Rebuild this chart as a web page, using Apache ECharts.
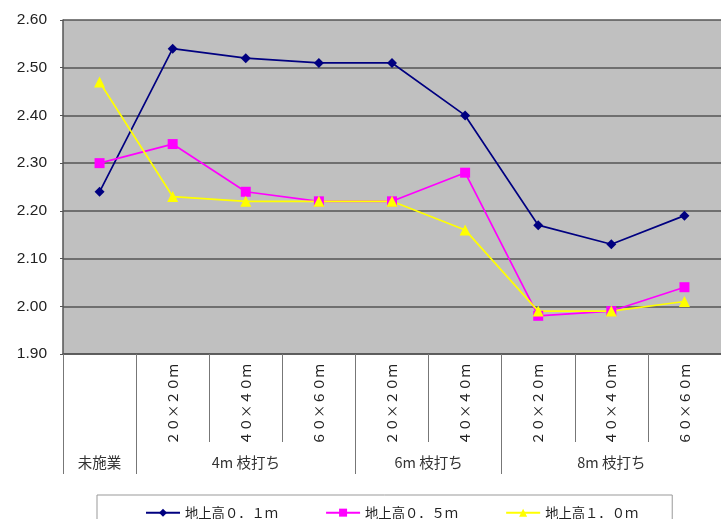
<!DOCTYPE html>
<html>
<head>
<meta charset="utf-8">
<script src="https://cdn.jsdelivr.net/npm/echarts@6/dist/echarts.min.js"></script>
<style>
html,body{margin:0;padding:0;background:#fff;}
#c{width:721px;height:519px;}
</style>
</head>
<body>
<div id="c"></div>
<script>
// Sub-category labels (rotated row); first category has none
const subLabels = ['', '２０×２０ｍ', '４０×４０ｍ', '６０×６０ｍ', '２０×２０ｍ', '４０×４０ｍ', '２０×２０ｍ', '４０×４０ｍ', '６０×６０ｍ'];
// Group row
const groupNames = ['未施業', '4m 枝打ち', '6m 枝打ち', '8m 枝打ち'];
const groupSpans = [1, 3, 2, 3];
// Series
const seriesNames = ['地上高０．１ｍ', '地上高０．５ｍ', '地上高１．０ｍ'];
const s01 = [2.24, 2.54, 2.52, 2.51, 2.51, 2.40, 2.17, 2.13, 2.19];
const s05 = [2.30, 2.34, 2.24, 2.22, 2.22, 2.28, 1.98, 1.99, 2.04];
const s10 = [2.47, 2.23, 2.22, 2.22, 2.22, 2.16, 1.99, 1.99, 2.01];
const yTicks = { min: 1.9, max: 2.6, interval: 0.1 };

const categories = subLabels.map((s, i) => 'c' + i);
const bounds = [0];
const centers = [];
groupSpans.forEach(s => { const b = bounds[bounds.length - 1]; centers.push(b + s / 2); bounds.push(b + s); });
const groupTickVals = bounds.slice(0, bounds.length - 1);

const chart = echarts.init(document.getElementById('c'));
const jp = '"Noto Sans CJK JP", "Noto Sans", sans-serif';
const gridColor = '#555555';
chart.setOption({
  backgroundColor: '#ffffff',
  animation: false,
  grid: { left: 63, top: 20, width: 666, bottom: 165, backgroundColor: '#c0c0c0', show: true, borderWidth: 0 },
  xAxis: [
    {
      type: 'category', data: categories, boundaryGap: true, position: 'bottom',
      axisLine: { lineStyle: { color: gridColor, width: 1.5 } },
      axisTick: { show: true, interval: 0, length: 88, lineStyle: { color: '#777777', width: 1 } },
      axisLabel: {
        interval: 0, rotate: 90, margin: 10, fontFamily: jp, fontSize: 13.5, color: '#222',
        formatter: (v, i) => subLabels[i]
      },
      splitLine: { show: false }
    },
    {
      type: 'value', min: 0, max: bounds[bounds.length - 1], position: 'bottom', offset: 88,
      axisLine: { show: false },
      axisTick: { show: true, customValues: groupTickVals, length: 32, lineStyle: { color: '#777777', width: 1 } },
      axisLabel: {
        customValues: centers, margin: 13, fontFamily: jp, fontSize: 14.5, color: '#333',
        formatter: (v) => { const k = centers.findIndex(c => Math.abs(c - v) < 1e-6); return k >= 0 ? groupNames[k] : ''; }
      },
      splitLine: { show: false }
    }
  ],
  yAxis: {
    type: 'value', min: yTicks.min, max: yTicks.max, interval: yTicks.interval,
    axisLine: { show: true, lineStyle: { color: gridColor, width: 1.5 } },
    axisTick: { show: true, length: 3, lineStyle: { color: gridColor } },
    axisLabel: { margin: 16, fontFamily: '"Liberation Sans", Arial, sans-serif', fontSize: 15.5, color: '#222',
      formatter: v => v.toFixed(2) },
    splitLine: { show: true, lineStyle: { color: gridColor, width: 1.5 } }
  },
  legend: {
    left: 97, top: 495, padding: [11, 34, 20, 48], itemGap: 47,
    borderColor: '#999999', borderWidth: 1, itemWidth: 34, itemHeight: 10,
    textStyle: { fontFamily: jp, fontSize: 13.3, color: '#222' },
    data: seriesNames
  },
  series: [
    { name: seriesNames[0], type: 'line', data: s01, symbol: 'diamond', symbolSize: 10,
      lineStyle: { color: '#000080', width: 1.7 }, itemStyle: { color: '#000080' } },
    { name: seriesNames[1], type: 'line', data: s05, symbol: 'rect', symbolSize: 10,
      lineStyle: { color: '#ff00ff', width: 1.7 }, itemStyle: { color: '#ff00ff' } },
    { name: seriesNames[2], type: 'line', data: s10, symbol: 'triangle', symbolSize: 11,
      lineStyle: { color: '#ffff00', width: 1.7 }, itemStyle: { color: '#ffff00' } }
  ]
});
</script>
</body>
</html>
